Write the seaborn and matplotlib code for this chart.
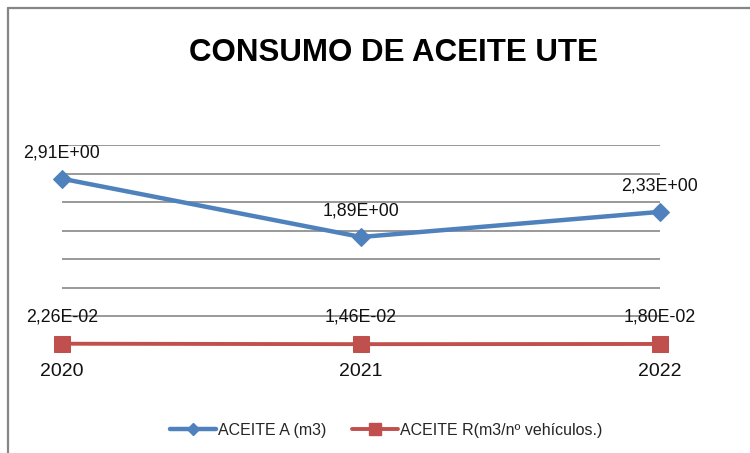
import matplotlib
matplotlib.use("Agg")
import matplotlib.pyplot as plt
import seaborn as sns
import pandas as pd
from matplotlib.lines import Line2D

years = [2020, 2021, 2022]
aceite_a = [2.91, 1.89, 2.33]
aceite_r = [0.0226, 0.0146, 0.0180]
labels_a = ["2,91E+00", "1,89E+00", "2,33E+00"]
labels_r = ["2,26E-02", "1,46E-02", "1,80E-02"]
series_names = ["ACEITE A (m3)", "ACEITE R(m3/nº vehículos.)"]

sns.set_style("white")
plt.rcParams['font.family'] = ['Liberation Sans', 'DejaVu Sans']

blue = "#4F81BD"
red = "#C0504D"

fig = plt.figure(figsize=(7.5, 4.53), dpi=100)
ax = fig.add_axes([62 / 750, 108 / 453, 598 / 750, 200 / 453])

df = pd.DataFrame({"year": years, "a": aceite_a, "r": aceite_r})

# horizontal grid every 0.5
for v in [0.5, 1.0, 1.5, 2.0, 2.5, 3.0, 3.5]:
    ax.axhline(v, color="#878787", lw=1.2, zorder=0)

sns.lineplot(data=df, x="year", y="a", ax=ax, color=blue, lw=3.2,
             marker="D", markersize=9, markeredgecolor=blue, zorder=3, clip_on=False)
sns.lineplot(data=df, x="year", y="r", ax=ax, color=red, lw=2.8,
             marker="s", markersize=11, markeredgecolor=red, zorder=3, clip_on=False)

for x, y, t in zip(years, aceite_a, labels_a):
    ax.annotate(t, (x, y), xytext=(0, 18.5), textcoords="offset points",
                ha="center", va="center", fontsize=12.8, color="#111111",
                annotation_clip=False)
for x, y, t in zip(years, aceite_r, labels_r):
    ax.annotate(t, (x, y), xytext=(0, 19.5), textcoords="offset points",
                ha="center", va="center", fontsize=12.8, color="#111111",
                annotation_clip=False)

ax.set_xlim(2020, 2022)
ax.set_ylim(0, 3.5)
ax.set_xticks(years)
ax.set_xticklabels([str(y) for y in years], fontsize=14, color="#111111")
ax.set_yticks([])
ax.tick_params(axis="x", length=0, pad=13)
ax.set_xlabel("")
ax.set_ylabel("")
for s in ax.spines.values():
    s.set_visible(False)

fig.text(0.524, 1 - 53 / 453, "CONSUMO DE ACEITE UTE", ha="center", va="center",
         fontsize=22.5, fontweight="bold", color="black")

# chart border (left and top visible)
fig.add_artist(Line2D([7.5 / 750, 7.5 / 750], [0, 1 - 7.5 / 453],
                      color="#868686", lw=1.6, transform=fig.transFigure))
fig.add_artist(Line2D([7.5 / 750, 1], [1 - 7.5 / 453, 1 - 7.5 / 453],
                      color="#868686", lw=1.6, transform=fig.transFigure))

handles = [
    Line2D([], [], color=blue, lw=3.2, marker="D", markersize=6),
    Line2D([], [], color=red, lw=2.8, marker="s", markersize=8),
]
fig.legend(handles, series_names, loc="center", bbox_to_anchor=(0.515, 1 - 430 / 453),
           ncol=2, frameon=False, fontsize=11.5, handlelength=2.9,
           handletextpad=0.1, columnspacing=1.6)

fig.savefig("out.png", dpi=100, facecolor="white")
